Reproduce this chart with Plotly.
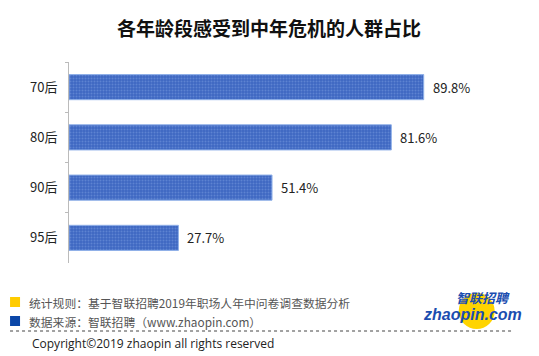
import plotly.graph_objects as go

categories = ["70后", "80后", "90后", "95后"]
values = [89.8, 81.6, 51.4, 27.7]
value_labels = ["89.8%", "81.6%", "51.4%", "27.7%"]

title_text = "各年龄段感受到中年危机的人群占比"
note1 = "统计规则：基于智联招聘2019年职场人年中问卷调查数据分析"
note2 = "数据来源：智联招聘（www.zhaopin.com）"
copyright_text = "Copyright©2019 zhaopin all rights reserved"

# page body has an 8px margin; work in window pixels and subtract it
OFF = 8
W, H = 539 - OFF, 356 - OFF
ML, MT = 69 - OFF, 62 - OFF
PW = 395.3
PH = 201
MR = W - ML - PW
MB = H - MT - PH

def px(x):
    return (x - OFF - ML) / PW

def py(y):
    return (MT + PH - (y - OFF)) / PH

FONT = "Noto Sans CJK SC, Microsoft YaHei, sans-serif"

fig = go.Figure()
fig.add_trace(go.Bar(
    x=values, y=categories, orientation="h", width=0.5,
    marker=dict(color="#3E67C2",
                line=dict(color="#8FB0E8", width=1),
                pattern=dict(shape=".", fgcolor="#7C9FE0", bgcolor="#3E67C2", size=3, solidity=0.35)),
    hoverinfo="skip", cliponaxis=False,
))

annotations = []
for c, v, t in zip(categories, values, value_labels):
    annotations.append(dict(x=v, y=c, xref="x", yref="y", text=t, showarrow=False,
                            xanchor="left", xshift=7, font=dict(size=13, color="#222", family=FONT)))

annotations += [
    dict(x=px(269), y=py(27), xref="paper", yref="paper", text="<b>" + title_text + "</b>",
         showarrow=False, xanchor="center", yanchor="middle", font=dict(size=19, color="#111", family=FONT)),
    dict(x=px(27), y=py(302), xref="paper", yref="paper", text=note1, showarrow=False,
         xanchor="left", yanchor="middle", font=dict(size=11.8, color="#555", family=FONT)),
    dict(x=px(27), y=py(321), xref="paper", yref="paper", text=note2, showarrow=False,
         xanchor="left", yanchor="middle", font=dict(size=11.8, color="#555", family=FONT)),
    dict(x=px(30), y=py(343), xref="paper", yref="paper", text=copyright_text, showarrow=False,
         xanchor="left", yanchor="middle", font=dict(size=12, color="#222", family="Open Sans, sans-serif")),
    dict(x=px(512), y=py(297), xref="paper", yref="paper", text="<b><i>智联招聘</i></b>", showarrow=False,
         xanchor="right", yanchor="middle", font=dict(size=13, color="#1B4DB0", family=FONT)),
    dict(x=px(524), y=py(314), xref="paper", yref="paper", text="<b><i>zhaopin.com</i></b>", showarrow=False,
         xanchor="right", yanchor="middle", font=dict(size=16, color="#1B4DB0", family="Liberation Sans, Arial, sans-serif")),
]

shapes = [
    dict(type="rect", xref="paper", yref="paper", x0=px(10), x1=px(20), y0=py(307), y1=py(297),
         fillcolor="#FFCC00", line=dict(width=0), layer="above"),
    dict(type="rect", xref="paper", yref="paper", x0=px(10), x1=px(20), y0=py(326), y1=py(316),
         fillcolor="#0B47A8", line=dict(width=0), layer="above"),
    dict(type="line", xref="paper", yref="paper", x0=px(10), x1=px(513), y0=py(331), y1=py(331),
         line=dict(color="#444", width=1, dash="dot")),
    dict(type="circle", xref="paper", yref="paper", x0=px(459), x1=px(495), y0=py(329), y1=py(293),
         fillcolor="#FFD400", line=dict(width=0), layer="below"),
]

fig.update_layout(
    width=W, height=H, margin=dict(l=ML, r=MR, t=MT, b=MB),
    paper_bgcolor="white", plot_bgcolor="white", showlegend=False,
    bargap=0.5,
    xaxis=dict(range=[0, 100], visible=False, fixedrange=True),
    yaxis=dict(autorange="reversed", showline=True, linecolor="#BBBBBB", linewidth=1,
               ticks="outside", ticklen=3, tickcolor="#BBBBBB", tickson="boundaries",
               showgrid=False, ticklabelstandoff=8,
               tickfont=dict(size=13, color="#222", family=FONT)),
    annotations=annotations, shapes=shapes,
)

fig.write_html("out.html")
